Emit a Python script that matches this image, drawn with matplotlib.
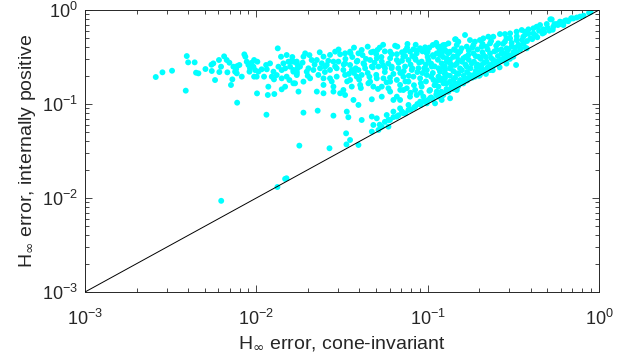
import matplotlib
matplotlib.use('Agg')
import numpy as np
import matplotlib.pyplot as plt

# values, as (log10 cone-invariant error, log10 internally positive error)
left_points = [
    (-2.587, -0.713), (-2.548, -0.663), (-2.492, -0.646), (-2.412, -0.858), (-2.406, -0.490),
    (-2.398, -0.557), (-2.360, -0.557), (-2.352, -0.667), (-2.338, -0.674), (-2.297, -0.628),
    (-2.262, -0.582), (-2.251, -0.568), (-2.260, -0.649), (-2.241, -0.745), (-2.218, -0.532),
    (-2.216, -0.660), (-2.206, -0.603), (-2.188, -0.493), (-2.173, -0.532), (-2.157, -0.561),
    (-2.169, -0.663), (-2.148, -0.798), (-2.140, -0.738), (-2.134, -0.603), (-2.118, -0.631),
    (-2.111, -0.596), (-2.099, -0.585), (-2.124, -0.656), (-2.114, -0.674), (-2.112, -0.986),
    (-2.085, -0.709), (-2.070, -0.472), (-2.064, -0.497), (-2.056, -0.550), (-2.046, -0.585),
    (-2.037, -0.621), (-2.040, -0.656), (-2.027, -0.561), (-2.013, -0.532), (-2.017, -0.603),
    (-2.007, -0.639), (-2.013, -0.709), (-1.998, -0.709), (-1.994, -0.550), (-1.988, -0.656),
    (-1.996, -0.887), (-1.969, -0.631), (-1.955, -0.709), (-1.943, -0.585), (-1.939, -0.631),
    (-1.920, -0.568), (-1.910, -0.709), (-1.900, -0.656), (-1.897, -0.738), (-1.881, -0.692),
    (-1.871, -0.603), (-1.875, -0.408), (-1.856, -0.497), (-1.852, -0.639), (-1.852, -0.727),
    (-1.842, -0.568), (-1.832, -0.621), (-1.823, -0.479), (-1.823, -0.709), (-1.813, -0.550),
    (-1.807, -0.745), (-1.803, -0.603), (-1.784, -0.550), (-1.784, -0.656), (-1.784, -0.780),
    (-1.764, -0.568), (-1.764, -0.656), (-1.764, -0.692), (-1.755, -0.596), (-1.832, -0.816),
    (-1.852, -0.844), (-1.933, -0.904), (-1.895, -0.894), (-1.930, -0.816), (-1.941, -1.114),
    (-1.749, -1.443),
    (-1.79, -0.50), (-1.76, -0.62), (-1.73, -0.56), (-1.70, -0.70), (-1.69, -0.48),
    (-1.66, -0.58), (-1.63, -0.45), (-1.60, -0.66), (-1.58, -0.54), (-1.56, -0.76),
    (-1.54, -0.60), (-1.52, -0.42),
]

low_points = [
    (-2.205, -2.030), (-1.877, -1.883), (-1.832, -1.797), (-1.824, -1.790), (-1.474, -1.430),
]

middle_points = [
    (-1.118, -0.361), (-1.177, -0.390), (-1.350, -0.390), (-1.083, -0.418), (-1.044, -0.407),
    (-1.015, -0.397), (-0.970, -0.372), (-0.898, -0.372), (-0.836, -0.312), (-0.830, -0.372),
    (-0.846, -0.418), (-0.889, -0.443), (-0.918, -0.432), (-0.947, -0.461), (-1.005, -0.461),
    (-1.064, -0.461), (-1.103, -0.443), (-1.132, -0.489), (-1.219, -0.443), (-1.293, -0.425),
    (-1.317, -0.443), (-1.385, -0.425), (-1.404, -0.461), (-1.453, -0.443), (-1.482, -0.461),
    (-1.511, -0.471), (-1.540, -0.443), (-1.570, -0.478), (-1.608, -0.496), (-1.647, -0.532),
    (-1.715, -0.461), (-1.725, -0.496), (-1.764, -0.549), (-1.803, -0.549),
    (-1.784, -0.638), (-1.745, -0.602), (-1.696, -0.620), (-1.677, -0.532), (-1.618, -0.567),
    (-1.589, -0.585), (-1.550, -0.549), (-1.521, -0.549), (-1.482, -0.567), (-1.453, -0.585),
    (-1.414, -0.549), (-1.375, -0.567), (-1.336, -0.532), (-1.297, -0.514), (-1.268, -0.549),
    (-1.219, -0.514), (-1.180, -0.532), (-1.142, -0.496), (-1.112, -0.532), (-1.073, -0.514),
    (-1.035, -0.549), (-0.996, -0.532), (-0.966, -0.496), (-0.928, -0.478), (-0.889, -0.514),
    (-0.850, -0.496), (-0.821, -0.461), (-0.869, -0.567), (-0.908, -0.602), (-0.937, -0.620),
    (-0.976, -0.602), (-1.005, -0.638), (-1.054, -0.620), (-1.093, -0.638), (-1.132, -0.602),
    (-1.171, -0.620), (-1.210, -0.602), (-1.249, -0.620), (-1.287, -0.602), (-1.326, -0.602),
    (-1.365, -0.620), (-1.404, -0.638), (-1.443, -0.638), (-1.492, -0.638), (-1.531, -0.620),
    (-1.570, -0.638), (-1.599, -0.602), (-1.628, -0.620), (-1.667, -0.638), (-1.706, -0.656),
    (-1.764, -0.673), (-1.725, -0.762), (-1.686, -0.727), (-1.638, -0.691), (-1.608, -0.727),
    (-1.570, -0.727), (-1.531, -0.709), (-1.482, -0.691), (-1.453, -0.744), (-1.414, -0.709),
    (-1.385, -0.691), (-1.336, -0.762), (-1.297, -0.727), (-1.258, -0.727), (-1.219, -0.762),
    (-1.180, -0.744), (-1.142, -0.709), (-1.112, -0.762), (-1.083, -0.709), (-1.044, -0.727),
    (-1.005, -0.691), (-0.966, -0.744), (-0.937, -0.709), (-0.889, -0.691), (-0.850, -0.744),
    (-0.830, -0.673), (-1.608, -0.797), (-1.774, -0.780), (-1.550, -0.815), (-1.492, -0.851),
    (-1.443, -0.815), (-1.394, -0.797), (-1.346, -0.780), (-1.317, -0.815), (-1.268, -0.815),
    (-1.229, -0.833), (-1.161, -0.797), (-1.122, -0.833), (-1.073, -0.851), (-1.035, -0.815),
    (-0.986, -0.851), (-0.937, -0.815), (-0.908, -0.780), (-0.850, -0.815),
    (-1.754, -0.868), (-1.647, -0.868), (-1.608, -0.886), (-1.550, -0.868), (-1.511, -0.886),
    (-1.482, -0.904), (-1.433, -0.957), (-1.404, -1.010), (-1.326, -0.950), (-1.268, -0.922),
    (-1.219, -0.868), (-1.180, -0.922), (-1.142, -0.851), (-1.200, -0.957), (-1.161, -0.957),
    (-1.103, -0.922), (-1.064, -0.904), (-1.025, -0.922), (-0.986, -0.939), (-0.947, -0.868),
    (-0.918, -0.904), (-0.889, -0.868), (-0.830, -0.851), (-0.869, -0.939), (-0.918, -0.957),
    (-0.957, -0.993), (-1.005, -0.993), (-1.044, -0.975), (-1.073, -1.028), (-1.112, -1.010),
    (-1.161, -1.046), (-1.200, -1.081),
    (-1.725, -1.092), (-1.642, -1.071), (-1.550, -1.124), (-1.472, -1.081), (-1.463, -1.141),
    (-1.385, -1.170), (-1.317, -1.223), (-1.326, -1.134), (-1.297, -1.152), (-1.239, -1.117),
    (-1.229, -1.170), (-1.268, -1.241), (-1.229, -1.241), (-1.180, -1.134), (-1.142, -1.099),
    (-1.112, -1.063), (-1.287, -1.276), (-1.326, -1.294), (-1.476, -1.312), (-1.453, -1.383),
    (-1.404, -1.436), (-1.573, -1.471),
    (-1.48, -0.52), (-1.46, -0.68), (-1.44, -0.50), (-1.42, -0.62), (-1.40, -0.74),
    (-1.38, -0.48), (-1.37, -0.58), (-1.35, -0.67), (-1.33, -0.45), (-1.31, -0.56),
    (-1.30, -0.69), (-1.28, -0.40), (-1.27, -0.50), (-1.25, -0.66), (-1.24, -0.77),
    (-1.23, -0.57), (-1.21, -0.47), (-1.20, -0.68), (-1.19, -0.38), (-1.17, -0.56),
    (-1.16, -0.85), (-1.15, -0.45), (-1.14, -0.65), (-1.13, -0.76), (-1.12, -0.40),
    (-1.10, -0.58), (-1.09, -0.49), (-1.08, -0.80), (-1.07, -0.37), (-1.06, -0.66),
    (-1.05, -0.56), (-1.04, -0.88), (-1.03, -0.44), (-1.02, -0.62), (-1.01, -0.76),
    (-1.00, -0.50), (-0.99, -0.40), (-0.98, -0.57), (-0.97, -0.67), (-0.96, -0.80),
    (-0.95, -0.35), (-0.94, -0.53), (-0.93, -0.42), (-0.93, -0.63), (-0.92, -0.73),
    (-1.49, -0.58), (-1.47, -0.76), (-1.45, -0.46), (-1.43, -0.67), (-1.41, -0.54),
    (-1.39, -0.83), (-1.36, -0.52), (-1.34, -0.71), (-1.32, -0.61), (-1.30, -0.47),
    (-1.29, -0.84), (-1.26, -0.59), (-1.25, -0.44), (-1.22, -0.72), (-1.21, -0.62),
    (-1.18, -0.47), (-1.16, -0.67), (-1.15, -0.54), (-1.13, -0.43), (-1.11, -0.70),
    (-1.10, -0.88), (-1.09, -0.62), (-1.07, -0.53), (-1.06, -0.43), (-1.04, -0.78),
    (-1.03, -0.67), (-1.01, -0.58), (-1.00, -0.44), (-0.99, -0.86), (-0.98, -0.71),
    (-0.97, -0.48), (-0.96, -0.60), (-0.95, -0.76), (-0.94, -0.39), (-1.43, -0.40),
    (-1.26, -0.37),
]

right_points = [
    (-0.058, -0.029), (-0.049, -0.022), (-0.160, -0.089), (-0.198, -0.114), (-0.228, -0.124),
    (-0.247, -0.149), (-0.276, -0.100), (-0.305, -0.149), (-0.344, -0.160), (-0.364, -0.178),
    (-0.383, -0.195), (-0.412, -0.206), (-0.432, -0.231), (-0.451, -0.213), (-0.481, -0.231),
    (-0.519, -0.249), (-0.549, -0.256), (-0.578, -0.256), (-0.617, -0.284), (-0.646, -0.284),
    (-0.675, -0.302), (-0.695, -0.320), (-0.724, -0.337), (-0.753, -0.320), (-0.782, -0.266),
    (-0.821, -0.337), (-0.840, -0.312), (-0.879, -0.355), (-0.909, -0.373), (-0.928, -0.390),
    (-0.208, -0.160), (-0.267, -0.178), (-0.325, -0.206), (-0.383, -0.249), (-0.412, -0.249),
    (-0.442, -0.284), (-0.481, -0.320), (-0.519, -0.302), (-0.549, -0.337), (-0.588, -0.355),
    (-0.636, -0.355), (-0.656, -0.390), (-0.685, -0.390), (-0.733, -0.373), (-0.772, -0.390),
    (-0.802, -0.408), (-0.840, -0.426), (-0.870, -0.444), (-0.899, -0.426), (-0.918, -0.461),
    (-0.422, -0.408), (-0.510, -0.390), (-0.539, -0.408), (-0.568, -0.461), (-0.597, -0.426),
    (-0.636, -0.461), (-0.675, -0.479), (-0.704, -0.497), (-0.733, -0.461), (-0.763, -0.479),
    (-0.792, -0.515), (-0.821, -0.532), (-0.850, -0.497), (-0.889, -0.550), (-0.918, -0.568),
    (-0.500, -0.497), (-0.529, -0.479), (-0.558, -0.515), (-0.588, -0.550), (-0.617, -0.532),
    (-0.656, -0.550), (-0.685, -0.585), (-0.714, -0.603), (-0.743, -0.568), (-0.772, -0.603),
    (-0.811, -0.621), (-0.840, -0.585), (-0.870, -0.621), (-0.899, -0.639), (-0.928, -0.656),
    (-0.484, -0.585), (-0.636, -0.639), (-0.665, -0.656), (-0.695, -0.692), (-0.724, -0.710),
    (-0.753, -0.692), (-0.782, -0.727), (-0.811, -0.745), (-0.840, -0.781), (-0.870, -0.763),
    (-0.899, -0.727), (-0.928, -0.745),
    (-0.792, -0.781), (-0.821, -0.810), (-0.850, -0.840), (-0.879, -0.869), (-0.909, -0.905),
    (-0.928, -0.920), (-0.428, -0.404), (-0.284, -0.099), (-0.226, -0.149), (-0.163, -0.089),
]

core_points = [
    (-0.91, -0.50), (-0.90, -0.60), (-0.90, -0.68), (-0.89, -0.78), (-0.88, -0.46),
    (-0.87, -0.53), (-0.87, -0.70), (-0.86, -0.59), (-0.86, -0.81), (-0.85, -0.65),
    (-0.84, -0.72), (-0.83, -0.49), (-0.83, -0.57), (-0.82, -0.68), (-0.82, -0.78),
    (-0.81, -0.44), (-0.80, -0.55), (-0.80, -0.64), (-0.79, -0.70), (-0.78, -0.50),
    (-0.78, -0.58), (-0.77, -0.66), (-0.77, -0.75), (-0.76, -0.43), (-0.76, -0.53),
    (-0.75, -0.62), (-0.74, -0.72), (-0.74, -0.40), (-0.73, -0.55), (-0.72, -0.49),
    (-0.72, -0.65), (-0.71, -0.42), (-0.71, -0.58), (-0.70, -0.70), (-0.69, -0.52),
    (-0.69, -0.62), (-0.68, -0.36), (-0.68, -0.45), (-0.67, -0.56), (-0.66, -0.68),
    (-0.66, -0.50), (-0.65, -0.42), (-0.64, -0.60), (-0.63, -0.33), (-0.63, -0.51),
    (-0.62, -0.64), (-0.61, -0.44), (-0.60, -0.57), (-0.60, -0.38), (-0.59, -0.49),
    (-0.58, -0.61), (-0.57, -0.42), (-0.57, -0.54), (-0.56, -0.36), (-0.55, -0.46),
    (-0.54, -0.57), (-0.54, -0.30), (-0.53, -0.42), (-0.52, -0.52), (-0.51, -0.35),
    (-0.50, -0.45), (-0.49, -0.40), (-0.48, -0.28), (-0.47, -0.37), (-0.46, -0.40),
    (-0.45, -0.32), (-0.44, -0.36), (-0.43, -0.26), (-0.42, -0.33), (-0.40, -0.30),
    (-0.39, -0.31), (-0.37, -0.27), (-0.36, -0.29), (-0.35, -0.22), (-0.33, -0.25),
    (-0.32, -0.24), (-0.30, -0.19), (-0.29, -0.22), (-0.27, -0.21), (-0.26, -0.15),
    (-0.24, -0.16), (-0.22, -0.13), (-0.21, -0.14), (-0.19, -0.11), (-0.18, -0.12),
    (-0.15, -0.09), (-0.13, -0.08), (-0.11, -0.07), (-0.09, -0.06),
]

diagonal_band = [
    (-1.28, -1.22), (-1.25, -1.19), (-1.22, -1.17), (-1.20, -1.14), (-1.17, -1.12),
    (-1.15, -1.08), (-1.13, -1.10), (-1.10, -1.06), (-1.08, -1.04), (-1.06, -1.00),
    (-1.04, -1.01), (-1.02, -0.97), (-1.00, -0.96), (-0.98, -0.93), (-0.97, -0.95),
    (-0.95, -0.90), (-0.94, -0.92), (-0.92, -0.87), (-0.91, -0.89), (-0.89, -0.84),
    (-0.88, -0.86), (-0.86, -0.83), (-0.84, -0.80), (-0.83, -0.82), (-0.81, -0.77),
    (-0.79, -0.76), (-0.78, -0.73), (-0.76, -0.73), (-0.75, -0.70), (-0.73, -0.69),
    (-0.71, -0.67), (-0.70, -0.66), (-0.68, -0.63), (-0.67, -0.65), (-0.65, -0.61),
    (-0.63, -0.58), (-0.62, -0.60), (-0.60, -0.55), (-0.59, -0.57), (-0.57, -0.53),
    (-0.55, -0.52), (-0.53, -0.48), (-0.52, -0.50), (-0.50, -0.47), (-0.48, -0.45),
    (-0.46, -0.42),
]

axis_min, axis_max = 1e-3, 1e0
tick_values = [1e-3, 1e-2, 1e-1, 1e0]

all_points = np.array(left_points + low_points + middle_points + right_points
                      + core_points + diagonal_band)
cone_err = 10.0 ** all_points[:, 0]
internal_err = 10.0 ** all_points[:, 1]

plt.rcParams['font.family'] = ['Liberation Sans', 'DejaVu Sans']
plt.rcParams['mathtext.fontset'] = 'custom'
plt.rcParams['mathtext.rm'] = 'Liberation Sans'
plt.rcParams['mathtext.it'] = 'Liberation Sans:italic'
plt.rcParams['mathtext.bf'] = 'Liberation Sans:bold'

fig = plt.figure(figsize=(6.26, 3.62), dpi=100)
ax = fig.add_axes([85 / 626, 70 / 362, 514 / 626, 282 / 362])

ax.scatter(cone_err, internal_err, s=18, color='#00ffff', edgecolors='none', zorder=2)
ax.plot([axis_min, axis_max], [axis_min, axis_max], color='black', linewidth=0.7, zorder=3)

ax.set_xscale('log')
ax.set_yscale('log')
ax.set_xlim(axis_min, axis_max)
ax.set_ylim(axis_min, axis_max)
ax.set_xticks(tick_values)
ax.set_yticks(tick_values)
ax.tick_params(which='both', direction='in', top=True, right=True, labelsize=13,
               color='#262626', labelcolor='#262626', width=0.6)
ax.tick_params(which='major', length=5)
ax.tick_params(axis='x', which='major', pad=12)
ax.tick_params(axis='y', which='major', pad=5)
ax.tick_params(which='minor', length=3)
for s in ax.spines.values():
    s.set_linewidth(0.7)
    s.set_color('#262626')

# larger, lower infinity subscript like the original
ax.set_xlabel(r'H$_{\infty}$ error, cone-invariant', fontsize=14, color='#262626',
              labelpad=4, math_fontfamily='dejavusans')
ax.set_ylabel(r'H$_{\infty}$ error, internally positive', fontsize=14, color='#262626',
              labelpad=3, math_fontfamily='dejavusans')

fig.savefig('out.png', dpi=100)
